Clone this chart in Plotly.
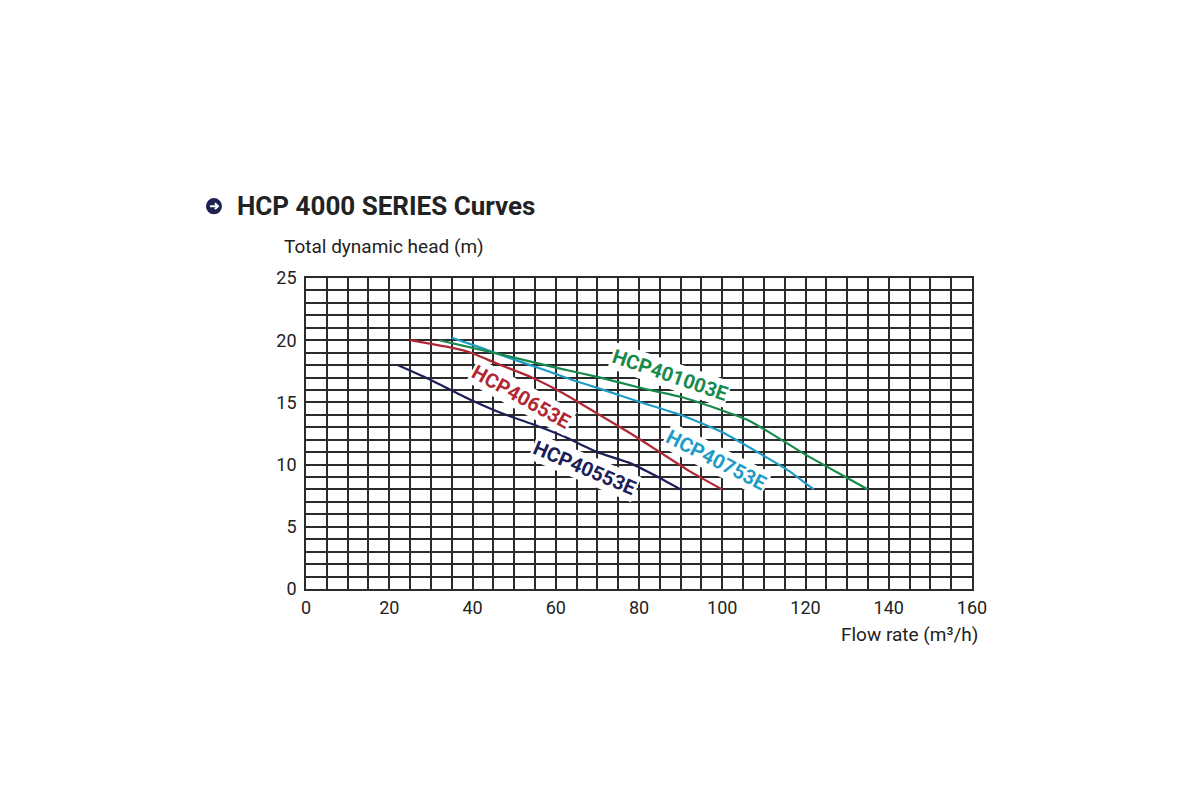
"""
HCP 4000 series pump curves
"""

import plotly.graph_objects as go

# flow rate (m3/h) / head (m) per model
flow_40553 = [22, 30, 39, 48, 54, 62, 70, 78, 84, 90]
head_40553 = [18.0, 16.8, 15.3, 14.0, 13.3, 12.25, 11.0, 10.1, 9.1, 8.0]

flow_40653 = [25, 30, 35, 40, 46, 54, 62, 70, 78, 85, 92, 100]
head_40653 = [20.0, 19.7, 19.4, 18.95, 18.1, 17.05, 15.7, 14.1, 12.5, 11.0, 9.5, 8.0]

flow_40753 = [35, 42, 49, 57, 64, 72, 80, 90, 100, 109, 116, 122]
head_40753 = [20.2, 19.4, 18.55, 17.65, 16.8, 15.95, 15.05, 14.0, 12.6, 10.9, 9.5, 8.0]

flow_401003 = [32, 45, 60, 70, 80, 90, 100, 106, 112, 120, 128, 135]
head_401003 = [20.0, 19.0, 17.8, 17.05, 16.2, 15.45, 14.35, 13.6, 12.45, 10.8, 9.3, 8.0]

# label text, position (data units) and angle
label_names = ["HCP40553E", "HCP40653E", "HCP40753E", "HCP401003E"]
label_x = [67.0, 51.8, 98.6, 87.5]
label_y = [9.7, 15.45, 10.4, 17.2]
label_angle = [23, 29, 27, 19]

colors = ["#1d2056", "#b02833", "#1f9cc6", "#178a4c"]

series = [
    (flow_40553, head_40553),
    (flow_40653, head_40653),
    (flow_40753, head_40753),
    (flow_401003, head_401003),
]

fig = go.Figure()

for (xs, ys), name, color in zip(series, label_names, colors):
    fig.add_trace(go.Scatter(
        x=xs,
        y=ys,
        mode="lines",
        name=name,
        line=dict(width=2.2, color=color, shape="spline", smoothing=0.4),
        showlegend=False
    ))

for name, x, y, ang, color in zip(label_names, label_x, label_y, label_angle, colors):
    fig.add_annotation(
        x=x, y=y, xref="x", yref="y",
        text="<b>" + name + "</b>",
        showarrow=False,
        textangle=ang,
        font=dict(family="Roboto", size=20, color=color),
        bgcolor="white",
        borderpad=1
    )

grid_color = "#2b2b2b"

fig.update_xaxes(
    range=[0, 160],
    dtick=20,
    tick0=0,
    showgrid=True,
    gridcolor=grid_color,
    gridwidth=1.6,
    minor=dict(dtick=5, showgrid=True, gridcolor=grid_color, gridwidth=1.6),
    showline=True,
    linecolor=grid_color,
    linewidth=1.6,
    mirror=True,
    zeroline=False,
    ticks="",
    tickfont=dict(family="Roboto", size=18, color="#222"),
    ticklabelstandoff=2
)
fig.update_yaxes(
    range=[0, 25],
    dtick=5,
    tick0=0,
    showgrid=True,
    gridcolor=grid_color,
    gridwidth=1.6,
    minor=dict(dtick=1, showgrid=True, gridcolor=grid_color, gridwidth=1.6),
    showline=True,
    linecolor=grid_color,
    linewidth=1.6,
    mirror=True,
    zeroline=False,
    ticks="",
    tickfont=dict(family="Roboto", size=18, color="#222"),
    ticklabelstandoff=4
)

# title with round arrow icon
fig.add_shape(
    type="circle", xref="paper", yref="paper",
    x0=-0.1502, x1=-0.1262, y0=1.205, y1=1.257,
    fillcolor="#1f2150", line=dict(width=0)
)
fig.add_shape(
    type="path", xref="paper", yref="paper",
    path="M -0.1442 1.231 L -0.1322 1.231 M -0.1367 1.2405 L -0.1322 1.231 L -0.1367 1.2215",
    line=dict(color="white", width=2)
)
fig.add_annotation(
    xref="paper", yref="paper", x=-0.107, y=1.231,
    xanchor="left", yanchor="middle",
    text="<b>HCP 4000 SERIES Curves</b>", showarrow=False,
    font=dict(family="Roboto", size=26, color="#222")
)
fig.add_annotation(
    xref="paper", yref="paper", x=-0.036, y=1.102,
    xanchor="left", yanchor="middle",
    text="Total dynamic head (m)", showarrow=False,
    font=dict(family="Roboto", size=19, color="#222")
)
fig.add_annotation(
    xref="paper", yref="paper", x=1.012, y=-0.145,
    xanchor="right", yanchor="middle",
    text="Flow rate (m³/h)", showarrow=False,
    font=dict(family="Roboto", size=19, color="#222")
)

fig.update_layout(
    width=1200,
    height=800,
    margin=dict(l=298, r=236, t=270, b=219),
    paper_bgcolor="white",
    plot_bgcolor="white",
    template="plotly_white"
)

fig.write_html("out.html")
